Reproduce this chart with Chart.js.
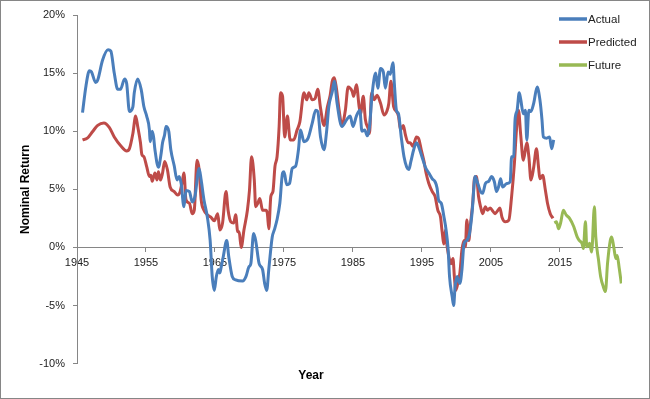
<!DOCTYPE html>
<html>
<head>
<meta charset="utf-8">
<script src="https://cdn.jsdelivr.net/npm/chart.js@4"></script>
<style>
html, body { margin: 0; padding: 0; background: #fff; }
</style>
</head>
<body>
<canvas id="mChart" width="650" height="399"></canvas>
<script>
// tick labels
const xTicks = [1945, 1955, 1965, 1975, 1985, 1995, 2005, 2015];
const yTicks = [-10, -5, 0, 5, 10, 15, 20];

// Actual
const actualYears = [1945.8, 1946.3, 1946.8, 1947.1, 1947.7, 1948.0, 1948.7, 1949.5, 1949.9, 1950.4,
  1950.9, 1951.3, 1951.9, 1952.2, 1952.6, 1953.1, 1953.3, 1953.8, 1954.3, 1954.7,
  1955.1, 1955.5, 1955.6, 1955.9, 1956.1, 1956.3, 1956.8, 1957.2, 1957.4, 1957.7,
  1957.9, 1958.3, 1958.6, 1959.1, 1959.5, 1959.8, 1960.1, 1960.5, 1960.8, 1961.3,
  1961.7, 1962.1, 1962.7, 1963.0, 1963.4, 1963.9, 1964.3, 1964.6, 1964.9, 1965.2,
  1965.5, 1965.7, 1965.9, 1966.2, 1966.7, 1967.0, 1967.5, 1968.0, 1969.0, 1969.5,
  1969.9, 1970.2, 1970.6, 1970.9, 1971.4, 1971.9, 1972.2, 1972.5, 1972.8, 1973.3,
  1973.6, 1974.0, 1974.4, 1974.8, 1975.0, 1975.4, 1975.8, 1976.2, 1976.7, 1977.1,
  1977.4, 1977.9, 1978.5, 1979.1, 1979.6, 1979.9, 1980.3, 1980.8, 1981.2, 1981.5,
  1982.0, 1982.3, 1982.7, 1983.4, 1984.1, 1984.6, 1985.0, 1985.5, 1986.0, 1986.3,
  1986.7, 1987.1, 1987.4, 1987.8, 1988.3, 1988.6, 1989.0, 1989.4, 1989.7, 1990.1,
  1990.4, 1990.8, 1991.0, 1991.3, 1991.6, 1992.0, 1992.4, 1992.8, 1993.1, 1993.4,
  1993.8, 1994.2, 1994.5, 1995.0, 1995.5, 1996.0, 1996.5, 1996.9, 1997.2, 1997.4,
  1997.8, 1998.2, 1998.5, 1998.8, 1999.0, 1999.4, 1999.6, 1999.8, 2000.1, 2000.2,
  2000.5, 2000.8, 2001.1, 2001.5, 2001.9, 2002.3, 2002.5, 2002.7, 2003.1, 2003.5,
  2003.8, 2004.2, 2004.7, 2005.1, 2005.5, 2005.8, 2006.1, 2006.4, 2006.7, 2007.3,
  2007.8, 2008.0, 2008.3, 2008.5, 2008.8, 2009.1, 2009.3, 2009.7, 2010.0, 2010.2,
  2010.5, 2010.8, 2011.2, 2011.7, 2012.1, 2012.4, 2012.6, 2013.1, 2013.5, 2013.8, 2014.1];
const actualValues = [11.6, 13.9, 15.2, 15.1, 14.2, 14.4, 16.1, 17.0, 16.9, 15.0,
  13.6, 13.6, 14.5, 14.1, 11.7, 12.1, 13.3, 14.5, 13.6, 12.1,
  11.3, 10.1, 9.1, 10.0, 9.5, 8.4, 6.9, 8.1, 9.0, 9.7,
  10.4, 10.0, 8.4, 7.0, 5.8, 6.1, 5.5, 3.5, 4.9, 4.8,
  3.9, 4.4, 6.8, 5.8, 4.1, 2.6, 0.6, -2.5, -3.7, -2.5,
  -1.9, -2.2, -1.7, -0.8, 0.6, -0.8, -2.5, -2.8, -2.9, -2.5,
  -1.7, -1.4, 1.2, 0.6, -1.4, -1.9, -3.1, -3.7, -1.9, 0.9,
  1.5, 2.4, 3.8, 6.4, 6.5, 5.4, 5.5, 6.8, 7.0, 8.4,
  10.1, 9.1, 9.4, 10.7, 11.8, 11.7, 9.5, 8.4, 10.1, 12.1,
  13.4, 14.3, 12.4, 10.4, 11.0, 11.3, 10.4, 11.3, 11.8, 10.0,
  10.1, 9.6, 10.4, 13.3, 15.0, 13.7, 15.4, 15.1, 13.7, 15.1,
  14.9, 15.9, 14.1, 11.8, 11.5, 9.5, 7.8, 6.9, 6.7, 7.4,
  8.4, 9.0, 8.7, 7.8, 6.9, 6.4, 5.9, 5.65, 5.1, 4.1,
  3.8, 2.6, 1.5, -0.2, -2.5, -4.3, -5.0, -3.4, -2.5, -2.7,
  -3.1, -1.9, 0.3, 0.6, 1.2, 3.2, 4.9, 6.1, 5.5, 4.8,
  4.65, 5.5, 5.7, 6.1, 5.65, 4.8, 5.2, 5.9, 5.2, 5.5,
  5.65, 7.8, 7.8, 11.0, 11.8, 13.3, 12.8, 11.5, 11.8, 9.25,
  11.8, 11.7, 12.4, 13.8, 12.7, 11.0, 9.5, 9.4, 9.5, 8.5, 9.25];

// Predicted
const predYears = [1945.8, 1946.5, 1947.3, 1948.0, 1948.9, 1949.7, 1950.4, 1951.4, 1952.2, 1952.6,
  1953.1, 1953.5, 1953.8, 1954.2, 1954.4, 1954.7, 1955.1, 1955.5, 1955.7, 1955.9,
  1956.3, 1956.6, 1956.8, 1957.1, 1957.4, 1957.7, 1958.1, 1958.5, 1959.1, 1959.6,
  1959.95, 1960.3, 1960.5, 1960.8, 1961.3, 1961.7, 1962.0, 1962.4, 1962.7, 1963.0,
  1963.4, 1963.9, 1964.4, 1964.9, 1965.4, 1965.7, 1966.1, 1966.6, 1966.9, 1967.3,
  1967.7, 1968.0, 1968.3, 1968.5, 1968.8, 1969.2, 1969.7, 1970.0, 1970.3, 1970.7,
  1970.9, 1971.2, 1971.5, 1971.9, 1972.4, 1972.6, 1972.8, 1973.1, 1973.4, 1973.7,
  1974.0, 1974.3, 1974.5, 1974.8, 1975.1, 1975.5, 1975.9, 1976.4, 1976.9, 1977.3,
  1977.9, 1978.3, 1978.6, 1979.1, 1979.5, 1979.9, 1980.3, 1980.8, 1981.3, 1981.7,
  1982.0, 1982.3, 1982.6, 1983.0, 1983.4, 1983.9, 1984.3, 1984.9, 1985.1, 1985.5,
  1985.9, 1986.1, 1986.5, 1986.8, 1987.2, 1987.4, 1987.7, 1988.1, 1988.5, 1989.0,
  1989.5, 1989.9, 1990.2, 1990.5, 1990.9, 1991.3, 1991.6, 1991.9, 1992.3, 1992.6,
  1993.0, 1993.3, 1993.7, 1994.2, 1994.5, 1994.9, 1995.3, 1995.6, 1996.0, 1996.5,
  1996.9, 1997.3, 1997.7, 1997.9, 1998.2, 1998.4, 1998.6, 1998.9, 1999.2, 1999.5,
  1999.7, 1999.9, 2000.2, 2000.5, 2000.8, 2001.1, 2001.3, 2001.5, 2001.8, 2002.0,
  2002.4, 2002.6, 2002.9, 2003.2, 2003.5, 2003.8, 2004.2, 2004.5, 2004.9, 2005.3,
  2005.6, 2005.9, 2006.3, 2006.6, 2007.1, 2007.6, 2008.0, 2008.4, 2008.7, 2009.0,
  2009.3, 2009.7, 2010.2, 2010.5, 2010.8, 2011.2, 2011.6, 2011.9, 2012.1, 2012.5,
  2012.9, 2013.2, 2013.6, 2014.0];
const predValues = [9.25, 9.4, 10.0, 10.5, 10.7, 10.3, 9.5, 8.7, 8.3, 8.5,
  9.8, 11.3, 10.4, 9.0, 8.0, 7.8, 6.95, 6.1, 6.2, 5.7,
  6.4, 5.8, 6.5, 5.8, 6.4, 7.4, 6.7, 5.2, 4.8, 4.5,
  4.8, 5.8, 6.4, 4.1, 3.8, 2.9, 3.2, 7.5, 6.7, 4.1,
  3.2, 2.8, 2.6, 2.3, 2.9, 1.5, 2.1, 4.8, 3.2, 2.2,
  2.1, 2.8, 1.35, 1.35, 0.0, 1.5, 3.2, 4.9, 7.8, 5.8,
  3.5, 3.8, 4.2, 3.2, 3.2, 2.9, 1.6, 4.4, 4.8, 7.0,
  7.8, 10.4, 13.3, 13.0, 9.5, 11.3, 9.25, 9.25, 10.1, 10.8,
  13.3, 12.7, 13.3, 12.7, 12.8, 13.6, 12.0, 10.5, 12.1, 13.1,
  14.3, 14.6, 13.7, 11.8, 10.5, 11.8, 13.8, 13.4, 13.0, 14.0,
  12.1, 11.5, 13.0, 11.0, 10.25, 9.8, 13.3, 12.7, 13.1, 12.4,
  11.4, 11.7, 12.4, 14.3, 12.1, 11.7, 11.3, 10.1, 10.5, 9.7,
  9.0, 9.0, 8.7, 9.5, 9.4, 8.4, 7.4, 6.4, 5.5, 4.8,
  4.4, 3.2, 2.6, 1.5, 0.3, 1.5, 0.3, -0.8, -1.4, -0.95,
  -2.5, -3.7, -3.1, -2.2, -0.2, 0.6, 0.05, 2.35, 0.6, 1.8,
  4.1, 5.9, 6.1, 4.4, 3.5, 2.9, 3.5, 3.2, 3.4, 3.1,
  2.9, 3.1, 3.4, 2.6, 2.2, 2.35, 4.4, 7.2, 10.1, 11.8,
  9.8, 7.5, 9.0, 7.8, 5.8, 6.9, 8.5, 6.9, 5.9, 6.2,
  4.9, 3.8, 2.9, 2.5];

// Future
const futureYears = [2014.2, 2014.5, 2014.8, 2015.1, 2015.5, 2015.9, 2016.4, 2017.0, 2017.5, 2017.8,
  2018.2, 2018.4, 2018.7, 2018.9, 2019.3, 2019.6, 2020.0, 2020.2, 2020.6, 2020.9,
  2021.3, 2021.6, 2021.9, 2022.3, 2022.5, 2022.8, 2023.1, 2023.3, 2023.6, 2023.9];
const futureValues = [2.1, 2.2, 1.6, 2.1, 3.2, 2.8, 2.5, 1.8, 0.9, 0.6,
  0.35, -0.1, 2.2, 0.05, 0.35, -0.4, 3.5, 0.9, -1.1, -2.5,
  -3.4, -3.8, -1.4, 0.6, 0.9, 0.05, -0.95, -0.7, -1.8, -3.1];

const toPoints = (xs, ys) => xs.map((x, i) => ({ x: x, y: ys[i] }));

const frame = {
  id: 'frame',
  beforeDraw(chart) {
    const ctx = chart.ctx;
    ctx.save();
    ctx.fillStyle = '#fff';
    ctx.fillRect(0, 0, chart.width, chart.height);
    ctx.strokeStyle = '#868686';
    ctx.lineWidth = 1;
    ctx.strokeRect(0.5, 0.5, chart.width - 1, chart.height - 1);
    ctx.restore();
  }
};

// legend drawn inside plot area, top right
const sideLegend = {
  id: 'sideLegend',
  afterDraw(chart) {
    const ctx = chart.ctx;
    const a = chart.chartArea;
    chart.data.datasets.forEach((ds, i) => {
      const x = a.right - 63;
      const y = a.top + 4 + i * 23;
      ctx.save();
      ctx.strokeStyle = ds.borderColor;
      ctx.lineWidth = 3.5;
      ctx.beginPath();
      ctx.moveTo(x, y);
      ctx.lineTo(x + 28, y);
      ctx.stroke();
      ctx.fillStyle = '#222';
      ctx.font = '11.5px "Liberation Sans"';
      ctx.textBaseline = 'middle';
      ctx.fillText(ds.label, x + 29, y + 0.5);
      ctx.restore();
    });
  }
};

var ct = document.getElementById('mChart').getContext('2d');

var mChart = new Chart(ct, {
  type: 'line',
  data: {
    datasets: [{
      label: 'Actual',
      data: toPoints(actualYears, actualValues),
      borderColor: '#4a7ebb',
      borderWidth: 3,
      pointRadius: 0,
      cubicInterpolationMode: 'monotone'
    }, {
      label: 'Predicted',
      data: toPoints(predYears, predValues),
      borderColor: '#be4b48',
      borderWidth: 3,
      pointRadius: 0,
      cubicInterpolationMode: 'monotone'
    }, {
      label: 'Future',
      data: toPoints(futureYears, futureValues),
      borderColor: '#98b954',
      borderWidth: 3,
      pointRadius: 0,
      cubicInterpolationMode: 'monotone'
    }]
  },
  options: {
    responsive: false,
    animation: false,
    layout: { padding: { left: 0, right: 28, top: 15, bottom: 4 } },
    plugins: {
      legend: { display: false },
      tooltip: { enabled: false },
      title: {
        display: true,
        position: 'bottom',
        text: 'Year',
        color: '#000',
        font: { family: 'Liberation Sans', size: 12, weight: 'bold' },
        padding: { top: 4.5, bottom: 12.5 }
      }
    },
    scales: {
      x: {
        type: 'linear',
        position: { y: 0 },
        min: 1945,
        max: 2024,
        afterBuildTicks(scale) {
          scale.ticks = xTicks.map(v => ({ value: v }));
        },
        grid: { drawOnChartArea: false, color: '#868686', tickLength: 4 },
        border: { color: '#868686' },
        ticks: {
          color: '#222',
          padding: 5,
          maxRotation: 0,
          autoSkip: false,
          font: { family: 'Liberation Sans', size: 11 },
          callback: v => String(v)
        }
      },
      y: {
        min: -10,
        max: 20,
        afterBuildTicks(scale) {
          scale.ticks = yTicks.map(v => ({ value: v }));
        },
        afterFit(scale) { scale.width = 77; },
        grid: { drawOnChartArea: false, color: '#868686', tickLength: 4 },
        border: { color: '#868686' },
        ticks: {
          color: '#222',
          padding: 8,
          font: { family: 'Liberation Sans', size: 11 },
          callback: v => v + '%'
        },
        title: {
          display: true,
          text: 'Nominal Return',
          color: '#000',
          font: { family: 'Liberation Sans', size: 12, weight: 'bold' },
          padding: { top: 18, bottom: 0 }
        }
      }
    }
  },
  plugins: [frame, sideLegend]
});
</script>
</body>
</html>
